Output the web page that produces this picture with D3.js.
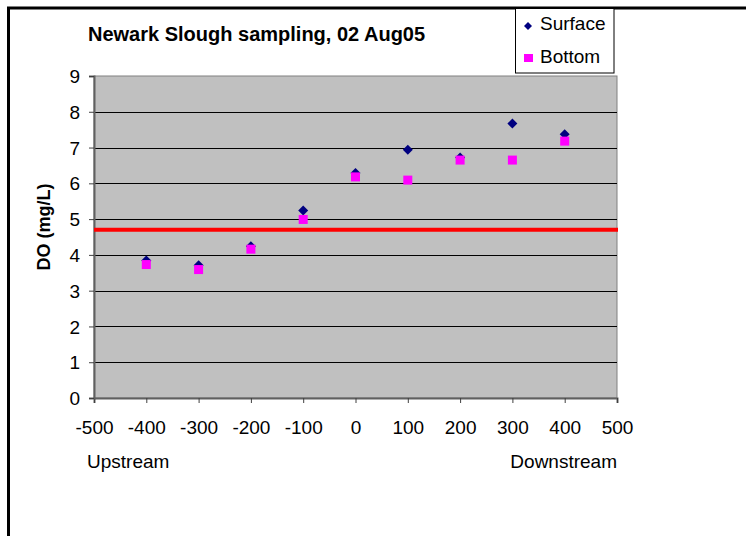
<!DOCTYPE html>
<html>
<head>
<meta charset="utf-8">
<script src="https://cdn.jsdelivr.net/npm/d3@7"></script>
<style>
  body { margin: 0; background: #fff; }
  svg { display: block; font-family: Arial, "Liberation Sans", sans-serif; }
</style>
</head>
<body>
<div id="chart"></div>
<script>
// distance along the slough (m) and DO readings
var stations = [-400, -300, -200, -100, 0, 100, 200, 300, 400];
var surface = [3.84, 3.71, 4.24, 5.24, 6.29, 6.94, 6.72, 7.67, 7.37];
var bottom = [3.73, 3.59, 4.16, 4.99, 6.18, 6.09, 6.65, 6.65, 7.18];
var xTicks = [-500, -400, -300, -200, -100, 0, 100, 200, 300, 400, 500];
var yTicks = [0, 1, 2, 3, 4, 5, 6, 7, 8, 9];
var standard = 4.7;

var width = 746, height = 536;
var plot = { left: 94, top: 76, right: 617, bottom: 398 };
var font = 'Arial, "Liberation Sans", sans-serif';

var svg = d3.select('#chart')
    .append('svg')
    .attr('width', width)
    .attr('height', height);

// chart frame (runs off the right and bottom edges)
svg.append('rect')
    .attr('x', 8.5)
    .attr('y', 8)
    .attr('width', 800)
    .attr('height', 600)
    .attr('fill', 'none')
    .attr('stroke', '#000')
    .attr('stroke-width', 3);

var x = d3.scaleLinear().domain([-500, 500]).range([plot.left, plot.right]);
var y = d3.scaleLinear().domain([0, 9]).range([plot.bottom, plot.top]);

svg.append('rect')
    .attr('x', plot.left)
    .attr('y', plot.top)
    .attr('width', plot.right - plot.left)
    .attr('height', plot.bottom - plot.top)
    .attr('fill', '#c0c0c0')
    .attr('stroke', '#808080')
    .attr('stroke-width', 1);

// gridlines
svg.append('g')
    .selectAll('line')
    .data(yTicks.slice(1, -1))
    .enter()
    .append('line')
    .attr('x1', plot.left)
    .attr('x2', plot.right)
    .attr('y1', function (d) { return Math.round(y(d)) + 0.5; })
    .attr('y2', function (d) { return Math.round(y(d)) + 0.5; })
    .attr('stroke', '#000')
    .attr('stroke-width', 1);

var xAxis = svg.append('g')
    .attr('transform', 'translate(0,' + plot.bottom + ')')
    .call(d3.axisBottom(x).tickValues(xTicks).tickFormat(String).tickSize(5).tickPadding(18));

var yAxis = svg.append('g')
    .attr('transform', 'translate(' + plot.left + ',0)')
    .call(d3.axisLeft(y).tickValues(yTicks).tickFormat(String).tickSize(5).tickPadding(9));

[xAxis, yAxis].forEach(function (g) {
    g.select('.domain').attr('stroke', '#606060').attr('stroke-width', 2);
    g.selectAll('.tick line').attr('stroke', '#404040');
    g.selectAll('text')
        .attr('fill', '#000')
        .style('font-size', '19px')
        .style('font-family', font);
});
yAxis.selectAll('text').attr('dy', '0.35em');

// DO standard line
svg.append('line')
    .attr('x1', plot.left)
    .attr('x2', plot.right + 1)
    .attr('y1', y(standard))
    .attr('y2', y(standard))
    .attr('stroke', '#ff0000')
    .attr('stroke-width', 4);

var diamond = d3.symbol().type(d3.symbolSquare).size(50);

svg.append('g')
    .selectAll('path')
    .data(stations)
    .enter()
    .append('path')
    .attr('d', diamond)
    .attr('transform', function (d, i) {
        return 'translate(' + x(d) + ',' + y(surface[i]) + ') rotate(45)';
    })
    .attr('fill', '#000080');

svg.append('g')
    .selectAll('rect')
    .data(stations)
    .enter()
    .append('rect')
    .attr('x', function (d) { return x(d) - 4.5; })
    .attr('y', function (d, i) { return y(bottom[i]) - 4.5; })
    .attr('width', 9)
    .attr('height', 9)
    .attr('fill', '#ff00ff');

// title and labels
svg.append('text')
    .attr('x', 88)
    .attr('y', 41)
    .style('font-size', '20px')
    .style('font-weight', 'bold')
    .text('Newark Slough sampling, 02 Aug05');

svg.append('text')
    .attr('transform', 'translate(50,227) rotate(-90)')
    .attr('text-anchor', 'middle')
    .style('font-size', '18px')
    .style('font-weight', 'bold')
    .text('DO (mg/L)');

svg.append('text')
    .attr('x', 87)
    .attr('y', 468)
    .style('font-size', '19px')
    .text('Upstream');

svg.append('text')
    .attr('x', 617)
    .attr('y', 468)
    .attr('text-anchor', 'end')
    .style('font-size', '19px')
    .text('Downstream');

// legend
var legend = svg.append('g');
legend.append('rect')
    .attr('x', 515.5)
    .attr('y', 8.5)
    .attr('width', 98.5)
    .attr('height', 64.5)
    .attr('fill', '#fff')
    .attr('stroke', '#000')
    .attr('stroke-width', 1);

legend.append('path')
    .attr('d', d3.symbol().type(d3.symbolSquare).size(32))
    .attr('transform', 'translate(528,26) rotate(45)')
    .attr('fill', '#000080');
legend.append('rect')
    .attr('x', 524)
    .attr('y', 54)
    .attr('width', 9)
    .attr('height', 8)
    .attr('fill', '#ff00ff');

legend.append('text')
    .attr('x', 540)
    .attr('y', 30)
    .style('font-size', '19px')
    .text('Surface');
legend.append('text')
    .attr('x', 540)
    .attr('y', 63)
    .style('font-size', '19px')
    .text('Bottom');
</script>
</body>
</html>
